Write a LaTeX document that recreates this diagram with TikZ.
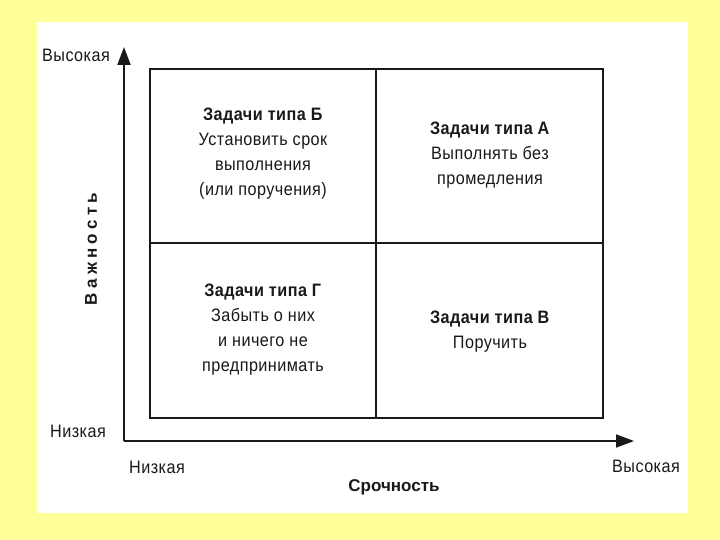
\documentclass[tikz,border=0pt]{standalone}
\usepackage{fontspec}
\setmainfont{Liberation Sans}
\newfontfamily\narrowfont[FakeStretch=0.9,LetterSpace=2.5]{Liberation Sans}
\usetikzlibrary{arrows.meta}
\definecolor{bgyellow}{RGB}{255,255,153}
\definecolor{ink}{RGB}{25,25,25}
\begin{document}
\begin{tikzpicture}[x=1pt,y=-1pt,
  axisline/.style={draw=ink,line width=1.8pt,-{Triangle[length=18pt,width=13pt]}},
  frameline/.style={draw=ink,line width=1.8pt},
  innerline/.style={draw=ink,line width=1.4pt},
  celltext/.style={align=center,font=\narrowfont\fontsize{18}{25}\selectfont,text=ink,inner sep=0pt},
  axislabel/.style={font=\narrowfont\fontsize{18}{18}\selectfont,text=ink,inner sep=0pt},
  axistitle/.style={font=\fontsize{17}{19}\selectfont\bfseries,text=ink,inner sep=0pt}]
\useasboundingbox (0,0) rectangle (720,540);
\fill[bgyellow] (0,0) rectangle (720,540);
\fill[white] (37,22) rectangle (688,513);
% axes
\coordinate (origin) at (124,441);
\coordinate (ytip) at (124,47);
\coordinate (xtip) at (634,441);
\draw[axisline] (origin) -- (ytip);
\draw[axisline] (origin) -- (xtip);
% grid
\coordinate (tl) at (150,69);
\coordinate (br) at (603,418);
\coordinate (mt) at (376,69);
\coordinate (mb) at (376,418);
\coordinate (ml) at (150,243);
\coordinate (mr) at (603,243);
\draw[innerline] (mt) -- (mb);
\draw[frameline] (ml) -- (mr);
\draw[frameline] (tl) rectangle (br);
% cell texts
\node[celltext] (cellB) at (263,154) {\textbf{Задачи типа Б}\\Установить срок\\выполнения\\(или поручения)};
\node[celltext] (cellA) at (490,155) {\textbf{Задачи типа А}\\Выполнять без\\промедления};
\node[celltext] (cellG) at (263,330) {\textbf{Задачи типа Г}\\Забыть о них\\и ничего не\\предпринимать};
\node[celltext] (cellV) at (490,332) {\textbf{Задачи типа В}\\Поручить};
% axis labels
\node[axislabel] (yhigh) at (76,55) {Высокая};
\node[axislabel] (ylow) at (78,431) {Низкая};
\node[axislabel] (xlow) at (157,467) {Низкая};
\node[axislabel] (xhigh) at (646,466) {Высокая};
\node[axistitle] (xtitle) at (394,487) {Срочность};
\node[axistitle,rotate=90,font=\fontsize{17}{19}\selectfont\bfseries\addfontfeature{LetterSpace=25}] (ytitle) at (91,249) {Важность};
\end{tikzpicture}
\end{document}
